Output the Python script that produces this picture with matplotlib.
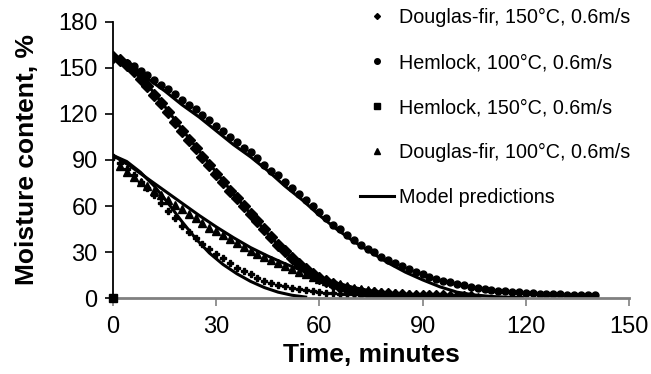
import numpy as np
import matplotlib
matplotlib.use("Agg")
import matplotlib.pyplot as plt
from matplotlib.lines import Line2D

plt.rcParams['font.family'] = ['Liberation Sans', 'DejaVu Sans']

# measured data (time in minutes, moisture content in %)
t_hem100 = np.arange(0, 141, 2)
mc_hem100 = [157, 155, 153, 151, 148, 145, 142, 139, 136, 133, 129, 126, 123, 119, 116,
             112, 109, 105, 102, 98, 95, 91, 87, 83, 80, 76, 72, 68, 64, 60, 56, 52, 48,
             45, 41, 38, 35, 32, 30, 27, 25, 23, 21, 19, 17, 15.5, 14, 12.5, 11.5, 10.5,
             9.5, 8.5, 7.5, 7, 6, 5.5, 5, 4.5, 4.2, 3.8, 3.5, 3.2, 3, 2.8, 2.6, 2.5, 2.4,
             2.3, 2.2, 2.1, 2]

t_hem150 = np.arange(0, 105, 2)
mc_hem150 = [157, 155, 152, 148, 143, 138, 132, 127, 121, 115, 109, 103, 98, 92, 87, 81,
             76, 70, 65, 60, 55, 50, 45, 40, 35, 31, 26, 22, 19, 16, 13, 11, 9, 7.5, 6, 5,
             4.3, 3.7, 3.2, 2.8, 2.5, 2.2, 2, 1.8, 1.6, 1.5, 1.4, 1.3, 1.2, 1.1, 1, 1, 1]
# stray point at the origin
t_hem150_extra = [0]
mc_hem150_extra = [0]

t_df100 = np.arange(2, 107, 2)
mc_df100 = [86, 82, 79, 76, 73, 70, 67, 64, 61, 58, 55, 52, 49, 46, 43.5, 41, 38.5, 36,
            33.5, 31, 29, 27, 25, 23, 21, 19, 17, 15.5, 14, 12.5, 11, 10, 9, 8, 7, 6.2,
            5.5, 4.8, 4.2, 3.7, 3.3, 3, 2.7, 2.4, 2.2, 2, 1.8, 1.6, 1.5, 1.4, 1.3, 1.2, 1.1]

t_df150 = np.arange(0, 91, 2)
mc_df150 = [92, 88, 84, 80, 76, 72, 67, 62, 57, 52, 47, 43, 39, 35.5, 32, 29, 26, 23, 20,
            17.5, 15.5, 13.5, 11.5, 10, 8.8, 7.8, 6.9, 6, 5.3, 4.7, 4.2, 3.7, 3.3, 3, 2.7,
            2.5, 2.3, 2.1, 2, 1.8, 1.7, 1.6, 1.5, 1.4, 1.3, 1.2]

# model predictions
tm_hem100 = [0, 5, 10, 15, 20, 25, 30, 35, 40, 45, 50, 55, 60, 65, 70, 75, 80, 85, 90, 95,
             100, 105, 110, 115, 119]
mm_hem100 = [157, 151, 143, 135, 126, 118, 109, 100, 92, 83, 73, 64, 54, 45, 37, 30, 23,
             17, 12, 7.5, 4, 2.2, 1.2, 0.7, 0.5]

tm_hem150 = [0, 5, 10, 15, 20, 25, 30, 35, 40, 45, 50, 55, 60, 65, 70, 75, 80, 85]
mm_hem150 = [157, 150, 139, 125, 110, 96, 82, 68, 55, 42, 30, 20, 12, 6.5, 3, 1.5, 0.8, 0.5]

tm_df100 = [0, 5, 10, 15, 20, 25, 30, 35, 40, 45, 50, 55, 60, 65, 70, 75, 80, 85, 90, 95, 100]
mm_df100 = [93, 86, 78, 70, 62, 54, 46.5, 39.5, 33, 27.5, 22.5, 18, 13.5, 10, 7, 4.8, 3.2,
            2, 1.3, 0.8, 0.5]

tm_df150 = [0, 4, 8, 12, 16, 20, 24, 28, 32, 36, 40, 44, 48, 52, 56]
mm_df150 = [93, 89, 82, 73, 62, 50, 39, 29.5, 22, 16, 11, 7, 4, 2, 0.8]

fig = plt.figure(figsize=(6.51, 3.74), dpi=100)
ax = fig.add_axes([0.1736, 0.2024, 0.7926, 0.7396])

lw = 2.2
ax.plot(tm_hem100, mm_hem100, color="black", lw=lw)
ax.plot(tm_hem150, mm_hem150, color="black", lw=lw)
ax.plot(tm_df100, mm_df100, color="black", lw=lw)
ax.plot(tm_df150, mm_df150, color="black", lw=lw)

ax.plot(t_df150, mc_df150, ls="none", marker="P", ms=4.5, color="black")
ax.plot(t_hem100, mc_hem100, ls="none", marker="o", ms=5, color="black")
ax.plot(t_hem150, mc_hem150, ls="none", marker="D", ms=6, color="black")
ax.plot(t_hem150_extra, mc_hem150_extra, ls="none", marker="s", ms=6, color="black",
        clip_on=False, zorder=5)
ax.plot(t_df100, mc_df100, ls="none", marker="^", ms=6, color="black")

ax.set_xlim(0, 150)
ax.set_ylim(0, 180)
ax.set_xticks(range(0, 151, 30))
ax.set_yticks(range(0, 181, 30))
ax.tick_params(labelsize=17, length=6, width=1.2, pad=5)
ax.tick_params(axis="x", colors="#808080", labelcolor="black", pad=7)
ax.spines["top"].set_visible(False)
ax.spines["right"].set_visible(False)
ax.spines["left"].set_color("black")
ax.spines["left"].set_linewidth(1.3)
ax.spines["bottom"].set_color("#808080")
ax.spines["bottom"].set_linewidth(2)

ax.set_xlabel("Time, minutes", fontsize=19, fontweight="bold", labelpad=3)
ax.set_ylabel("Moisture content, %", fontsize=19, fontweight="bold", labelpad=14)

handles = [
    Line2D([], [], ls="none", marker="D", ms=3, color="black"),
    Line2D([], [], ls="none", marker="o", ms=4, color="black"),
    Line2D([], [], ls="none", marker="s", ms=5, color="black"),
    Line2D([], [], ls="none", marker="^", ms=5, color="black"),
    Line2D([], [], color="black", lw=2.2),
]
labels = ["Douglas-fir, 150°C, 0.6m/s", "Hemlock, 100°C, 0.6m/s",
          "Hemlock, 150°C, 0.6m/s", "Douglas-fir, 100°C, 0.6m/s", "Model predictions"]
fig.legend(handles, labels, loc="upper left", bbox_to_anchor=(0.526, 1.026),
           frameon=False, fontsize=14.2, labelspacing=1.32, handlelength=1.7,
           handletextpad=0.25)

fig.savefig("out.png", dpi=100)
